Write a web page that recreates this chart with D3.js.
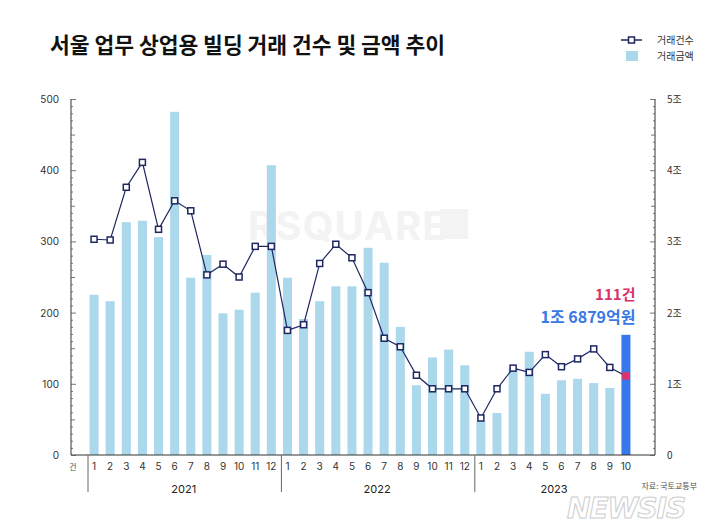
<!DOCTYPE html>
<html><head><meta charset="utf-8">
<script src="https://cdn.jsdelivr.net/npm/d3@7/dist/d3.min.js"></script>
<style>
html,body{margin:0;padding:0;background:#fff;}
svg{display:block;font-family:"Noto Sans CJK KR","Noto Sans",sans-serif;}
</style></head>
<body><svg id="chart" width="719" height="530"></svg>
<script>
// ---- data ----
const years = ["2021", "2022", "2023"];
const monthLabels2021 = ["1","2","3","4","5","6","7","8","9","10","11","12"];
const monthLabels2022 = ["1","2","3","4","5","6","7","8","9","10","11","12"];
const monthLabels2023 = ["1","2","3","4","5","6","7","8","9","10"];
// 거래금액 (조원)
const amount2021 = [2.25, 2.16, 3.27, 3.29, 3.06, 4.82, 2.49, 2.81, 1.99, 2.04, 2.28, 4.07];
const amount2022 = [2.49, 1.91, 2.16, 2.37, 2.37, 2.91, 2.70, 1.80, 0.98, 1.37, 1.48, 1.26];
const amount2023 = [0.48, 0.59, 1.22, 1.45, 0.86, 1.05, 1.07, 1.01, 0.94, 1.6879];
// 거래건수
const count2021 = [303, 302, 376, 411, 317, 357, 343, 253, 268, 250, 293, 293];
const count2022 = [175, 183, 269, 296, 277, 228, 164, 152, 112, 93, 93, 93];
const count2023 = [52, 93, 122, 116, 141, 124, 135, 149, 123, 111];
const leftTicks = [0, 100, 200, 300, 400, 500];
const rightTicks = [0, 1, 2, 3, 4, 5];
const rightTickLabels = ["0", "1조", "2조", "3조", "4조", "5조"];

const monthsByYear = [monthLabels2021, monthLabels2022, monthLabels2023];
const amountsByYear = [amount2021, amount2022, amount2023];
const countsByYear = [count2021, count2022, count2023];
const rows = [];
years.forEach((y, yi) => {
  monthsByYear[yi].forEach((m, mi) => {
    rows.push({key: y + "-" + m, year: y, month: m, amount: amountsByYear[yi][mi], count: countsByYear[yi][mi]});
  });
});

// ---- layout ----
const svg = d3.select("#chart");
const pLeft = 71, pRight = 655, pTop = 99, pBottom = 455;

const x = d3.scaleBand().domain(rows.map(d => d.key)).range([86, 634]).paddingInner(0.44).paddingOuter(0.22);
const yL = d3.scaleLinear().domain([0, 500]).range([pBottom, pTop]);
const yR = d3.scaleLinear().domain([0, 5]).range([pBottom, pTop]);

const barColor = "#acd8ec", lineColor = "#1e2761", hiBar = "#3677ea", hiPt = "#e0326a";

// watermark RSQUARE
const wm = svg.append("g");
wm.append("text").attr("x", 248).attr("y", 240).attr("font-size", 40).attr("font-weight", 700)
  .attr("font-family", "Inter, 'Noto Sans', sans-serif").attr("letter-spacing", 1)
  .attr("fill", "#f3f3f3").text("RSQUARE");
wm.append("rect").attr("x", 440).attr("y", 209).attr("width", 28).attr("height", 30).attr("fill", "#f3f3f3");

// title
svg.append("text").attr("x", 50).attr("y", 53).attr("font-size", 21.5).attr("font-weight", 700)
  .attr("fill", "#111").text("서울 업무 상업용 빌딩 거래 건수 및 금액 추이");

// legend
const lg = svg.append("g");
lg.append("line").attr("x1", 621).attr("x2", 642).attr("y1", 40).attr("y2", 40).attr("stroke", lineColor).attr("stroke-width", 1.5);
lg.append("rect").attr("x", 628.5).attr("y", 37).attr("width", 6).attr("height", 6).attr("fill", "#fff").attr("stroke", lineColor).attr("stroke-width", 1.5);
lg.append("text").attr("x", 657).attr("y", 44).attr("font-size", 10).attr("fill", "#333").text("거래건수");
lg.append("rect").attr("x", 626).attr("y", 51).attr("width", 12).attr("height", 10).attr("fill", barColor);
lg.append("text").attr("x", 657).attr("y", 60).attr("font-size", 10).attr("fill", "#333").text("거래금액");

// bars
svg.append("g").selectAll("rect").data(rows).join("rect")
  .attr("x", d => x(d.key)).attr("width", x.bandwidth())
  .attr("y", d => yR(d.amount)).attr("height", d => yR(0) - yR(d.amount))
  .attr("fill", (d, i) => i === rows.length - 1 ? hiBar : barColor);

// axes
const axisG = svg.append("g").attr("stroke", "#333").attr("stroke-width", 1);
axisG.append("line").attr("x1", pLeft).attr("x2", pLeft).attr("y1", pTop).attr("y2", pBottom);
axisG.append("line").attr("x1", pRight).attr("x2", pRight).attr("y1", pTop).attr("y2", pBottom);
axisG.append("line").attr("x1", pLeft).attr("x2", pRight).attr("y1", pBottom).attr("y2", pBottom);

const minor = d3.range(0, 501, 10);
svg.append("g").selectAll("line").data(minor).join("line")
  .attr("x1", pLeft).attr("x2", d => pLeft + (d % 100 === 0 ? 5 : d % 50 === 0 ? 4 : 2))
  .attr("y1", d => yL(d) + 0.5).attr("y2", d => yL(d) + 0.5).attr("stroke", "#555").attr("stroke-width", 0.8);
const minorR = d3.range(0, 51, 1);
svg.append("g").selectAll("line").data(minorR).join("line")
  .attr("x1", pRight).attr("x2", d => pRight - (d % 10 === 0 ? 5 : d % 5 === 0 ? 4 : 2))
  .attr("y1", d => yR(d / 10) + 0.5).attr("y2", d => yR(d / 10) + 0.5).attr("stroke", "#555").attr("stroke-width", 0.8);

svg.append("g").selectAll("text").data(leftTicks).join("text")
  .attr("x", 59).attr("y", d => yL(d) + 4).attr("text-anchor", "end").attr("font-size", 10)
  .attr("font-family", "Inter, 'Noto Sans', sans-serif").attr("fill", "#333").text(d => d);
svg.append("g").selectAll("text").data(rightTicks).join("text")
  .attr("x", 667).attr("y", d => yR(d) + 4).attr("font-size", 10)
  .attr("fill", "#333").text((d, i) => rightTickLabels[i]);

// month labels
svg.append("g").selectAll("text").data(rows).join("text")
  .attr("x", d => x(d.key) + x.bandwidth() / 2).attr("y", 470).attr("text-anchor", "middle")
  .attr("font-size", 10).attr("font-family", "Inter, 'Noto Sans', sans-serif").attr("fill", "#333").text(d => d.month);
svg.append("text").attr("x", 73).attr("y", 470).attr("text-anchor", "middle").attr("font-size", 8).attr("fill", "#555").text("건");

// year separators & labels
const yearInfo = years.map(y => {
  const r = rows.filter(d => d.year === y);
  const x0 = x(r[0].key) - x.step() * x.paddingInner() / 2 + 2;
  const x1 = x(r[r.length - 1].key) + x.bandwidth() + x.step() * x.paddingInner() / 2;
  return {year: y, x0, x1};
});
svg.append("g").selectAll("line").data(yearInfo).join("line")
  .attr("x1", d => d.x0).attr("x2", d => d.x0).attr("y1", 455).attr("y2", 492)
  .attr("stroke", "#666").attr("stroke-width", 1);
svg.append("g").selectAll("text").data(yearInfo).join("text")
  .attr("x", (d, i) => i === 2 ? 554 : (d.x0 + d.x1) / 2).attr("y", 493).attr("text-anchor", "middle")
  .attr("font-size", 11).attr("font-family", "Inter, 'Noto Sans', sans-serif").attr("fill", "#222").text(d => d.year);

// line
const line = d3.line().x(d => x(d.key) + x.bandwidth() / 2).y(d => yL(d.count));
svg.append("path").datum(rows).attr("d", line).attr("fill", "none").attr("stroke", lineColor).attr("stroke-width", 1.2);
svg.append("g").selectAll("rect").data(rows).join("rect")
  .attr("x", d => x(d.key) + x.bandwidth() / 2 - 3).attr("y", d => yL(d.count) - 3)
  .attr("width", 6).attr("height", 6)
  .attr("fill", (d, i) => i === rows.length - 1 ? hiPt : "#fff")
  .attr("stroke", (d, i) => i === rows.length - 1 ? hiPt : lineColor).attr("stroke-width", 1.5);

// annotation
const last = rows[rows.length - 1];
const annX = x(last.key) + x.bandwidth() + 5;
svg.append("text").attr("x", annX).attr("y", 300).attr("text-anchor", "end").attr("font-size", 15)
  .attr("font-weight", 700).attr("fill", "#d6336a").text(last.count + "건");
svg.append("text").attr("x", annX).attr("y", 323).attr("text-anchor", "end").attr("font-size", 16)
  .attr("font-weight", 700).attr("fill", "#3a78e6").text("1조 6879억원");

// source & watermark
svg.append("text").attr("x", 697).attr("y", 489).attr("text-anchor", "end").attr("font-size", 8).attr("fill", "#555").text("자료: 국토교통부");
svg.append("text").attr("x", 567).attr("y", 518).attr("font-size", 28).attr("font-weight", 900)
  .attr("font-style", "italic").attr("font-family", "'DejaVu Sans', sans-serif").attr("letter-spacing", -1)
  .attr("fill", "#fff").attr("stroke", "#c8c8c8").attr("stroke-width", 1).attr("opacity", 0.9).text("NEWSIS");
</script></body></html>
